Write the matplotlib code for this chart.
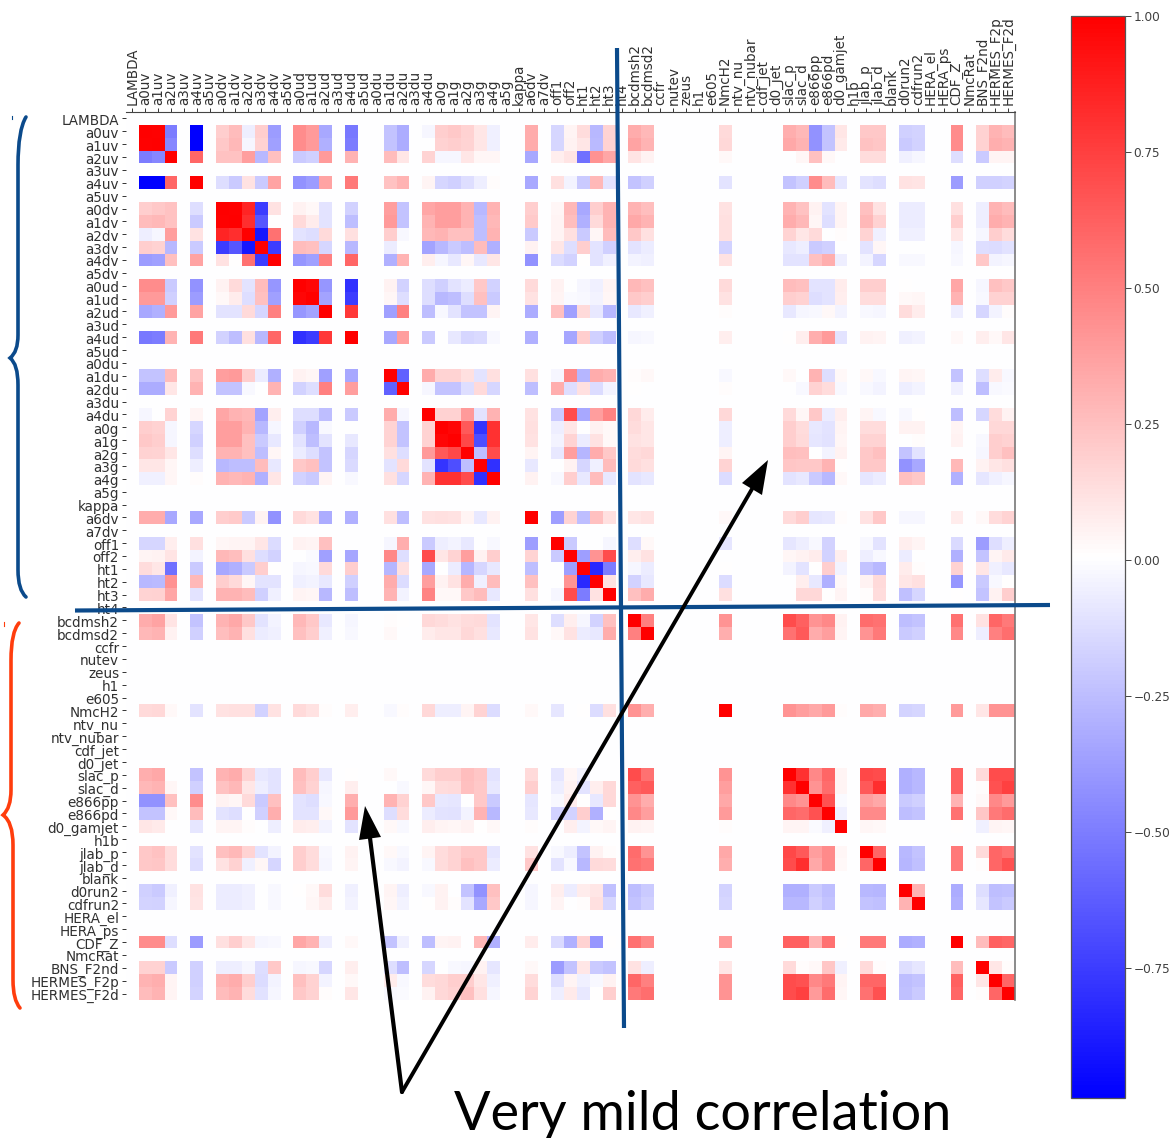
import numpy as np
import matplotlib
matplotlib.use("Agg")
import matplotlib.pyplot as plt
from matplotlib.path import Path
from matplotlib.patches import PathPatch, Polygon
from matplotlib.transforms import ScaledTranslation

W, H = 1174, 1138

labels = ["LAMBDA","a0uv","a1uv","a2uv","a3uv","a4uv","a5uv","a0dv","a1dv","a2dv","a3dv","a4dv","a5dv",
          "a0ud","a1ud","a2ud","a3ud","a4ud","a5ud","a0du","a1du","a2du","a3du","a4du",
          "a0g","a1g","a2g","a3g","a4g","a5g","kappa","a6dv","a7dv","off1","off2","ht1","ht2","ht3","ht4",
          "bcdmsh2","bcdmsd2","ccfr","nutev","zeus","h1","e605","NmcH2","ntv_nu","ntv_nubar","cdf_jet","d0_jet",
          "slac_p","slac_d","e866pp","e866pd","d0_gamjet","h1b","jlab_p","jlab_d","blank","d0run2","cdfrun2",
          "HERA_el","HERA_ps","CDF_Z","NmcRat","BNS_F2nd","HERMES_F2p","HERMES_F2d"]

# Only these parameters / data sets have non-empty rows
active = ["a0uv","a1uv","a2uv","a4uv","a0dv","a1dv","a2dv","a3dv","a4dv","a0ud","a1ud","a2ud","a4ud",
          "a1du","a2du","a4du","a0g","a1g","a2g","a3g","a4g","a6dv","off1","off2","ht1","ht2","ht3",
          "bcdmsh2","bcdmsd2","NmcH2","slac_p","slac_d","e866pp","e866pd","d0_gamjet","jlab_p","jlab_d",
          "d0run2","cdfrun2","CDF_Z","BNS_F2nd","HERMES_F2p","HERMES_F2d"]

# Upper triangle in percent, each row starts on the diagonal
r_a0uv = [100,99,-50,-99,20,27,-6,20,-38,45,40,-33,-52,-22,-32,-3,20,22,18,10,-5,33,-15,5,14,-27,17,33,28,15,32,28,-42,-22,10,22,22,-18,-16,45,18,30,27]
r_a1uv = [100,-46,-99,22,28,-3,18,-36,45,40,-30,-50,-22,-32,0,18,20,17,10,-5,33,-15,6,10,-26,18,36,30,16,34,30,-42,-22,9,24,23,-20,-17,45,18,32,30]
r_a2uv = [100,60,24,24,38,-27,25,-20,-18,40,30,27,10,17,-3,-3,10,4,4,-33,7,11,-55,43,35,11,6,3,0,4,25,3,0,14,14,-5,-3,-12,-20,5,5]
r_a4uv = [100,-12,-20,12,-20,36,-42,-38,36,52,24,30,5,-15,-18,-12,-6,2,-33,13,-4,-20,28,-10,-22,-18,-10,-22,-18,45,27,-9,-10,-12,12,11,-38,-18,-18,-16]
r_a0dv = [100,99,86,-75,12,6,3,-10,-17,38,-22,35,38,38,30,-27,30,20,4,28,-33,20,30,30,26,12,30,24,6,-10,5,25,12,-7,-7,13,-6,30,27]
r_a1dv = [100,82,-65,1,15,8,-10,-25,40,-22,30,38,38,30,-25,28,21,5,26,-30,15,30,34,30,13,33,28,4,-12,5,28,18,-7,-7,20,-6,33,30]
r_a2dv = [100,-90,55,-10,-12,15,13,20,-2,28,30,25,25,-25,30,-20,5,13,-20,4,27,22,13,13,17,10,15,0,2,17,-5,-5,-5,10,-3,20,14]
r_a3dv = [100,-75,27,25,-15,-27,-7,0,-35,-27,-20,-25,27,-30,6,10,-12,20,-10,-18,-10,-7,-17,-8,-6,-20,-18,0,-10,4,0,0,-3,-12,-13,-11]
r_a4dv = [100,-40,-36,50,60,-30,30,7,-3,-8,4,-8,10,-42,-13,-17,1,-10,-5,-4,-5,12,-10,-10,25,32,-6,-4,-15,-2,-2,-2,22,-4,-3]
r_a0ud = [100,97,-40,-80,6,-17,-12,-18,-10,-7,22,-17,15,6,0,-3,-5,5,28,25,15,27,25,-10,-10,8,20,20,1,0,35,-3,25,22]
r_a1ud = [100,-35,-75,4,-12,-12,-27,-25,-12,25,-20,12,5,-1,-2,-4,4,22,20,12,20,18,-12,-10,7,14,14,3,4,30,-2,18,18]
r_a2ud = [100,78,-36,50,-25,-2,-10,-22,-22,5,-32,25,-36,15,-8,-27,-8,-5,2,-8,-3,-2,3,-4,-2,-3,14,8,-6,-15,-4,2]
r_a4ud = [100,-33,38,-20,0,-8,-15,-14,-2,-30,0,-34,20,-18,-25,-3,-2,7,1,7,32,40,-10,6,5,-5,-4,3,7,3,10]
r_a1du = [100,-60,33,17,17,13,-10,13,13,-3,47,-28,33,30,2,3,-2,3,0,30,-12,3,3,-2,5,4,-22,-12,8,-2]
r_a2du = [100,-3,-22,-22,-12,15,-15,-25,32,-12,13,-13,-4,1,0,2,0,-2,18,14,-2,-2,-4,-6,-4,-5,-25,-2,-1]
r_a4du = [100,18,18,40,-10,30,12,-20,70,-33,38,48,16,8,16,15,4,22,-7,7,5,-2,-2,1,-25,-15,14,6]
r_a0g = [100,97,65,-78,80,13,-6,10,0,6,3,14,10,-6,20,14,-8,-10,5,14,14,6,6,5,0,16,16]
r_a1g = [100,72,-68,80,12,-4,17,-7,12,3,12,10,-6,20,15,-9,-11,4,17,17,0,2,6,-2,20,18]
r_a2g = [100,-25,70,5,-8,38,-28,33,22,14,16,5,26,25,0,-4,6,22,25,-22,-10,0,-3,20,25]
r_a3g = [100,-80,-8,0,6,-15,-5,27,15,13,17,23,22,22,30,1,22,22,-42,-33,28,6,10,13]
r_a4g = [100,6,-2,20,-8,27,-8,-10,-8,-13,-10,-8,-20,-27,3,-9,-7,25,22,-30,-9,-5,-3]
r_a6dv = [100,-37,17,-25,25,13,10,12,3,15,20,-9,-8,2,12,22,-3,-3,8,3,14,17]
r_off1 = [100,-20,0,0,-3,-12,3,-9,-9,-6,-2,-17,0,-2,-10,7,5,-14,-38,-12,-6]
r_off2 = [100,-37,42,70,7,12,0,4,6,8,-17,7,-6,-2,-7,0,-30,-22,5,9]
r_ht1 = [100,-83,-50,-3,-7,1,-4,-10,1,20,-4,-22,-27,8,2,18,10,-5,-8]
r_ht2 = [100,12,-17,-8,-13,0,7,-8,-30,3,6,15,10,13,-40,-20,-2,1]
r_ht3 = [100,25,33,13,0,16,16,1,5,2,14,-24,-15,1,-22,6,20]
r_bcdmsh2 = [100,50,42,70,62,42,47,6,58,55,-25,-22,55,12,60,52]
r_bcdmsd2 = [100,32,55,65,33,38,5,42,52,-20,-18,47,-6,50,57]
r_NmcH2 = [100,42,38,34,40,2,34,32,-16,-15,40,10,42,42]
r_slac_p = [100,80,47,60,5,72,70,-30,-27,62,15,70,70]
r_slac_d = [100,42,58,5,65,82,-30,-27,62,2,68,75]
r_e866pp = [100,68,-1,38,34,-20,-18,30,3,47,40]
r_e866pd = [100,-5,46,46,-25,-22,55,23,52,58]
r_d0_gamjet = [100,4,3,0,0,1,-5,5,4]
r_jlab_p = [100,60,-27,-22,52,15,60,55]
r_jlab_d = [100,-28,-24,52,2,60,68]
r_d0run2 = [100,30,-32,-12,-25,-24]
r_cdfrun2 = [100,-30,-9,-22,-20]
r_CDF_Z = [100,27,62,60]
r_BNS_F2nd = [100,10,2]
r_HERMES_F2p = [100,60]
r_HERMES_F2d = [100]

upper_rows = [r_a0uv,r_a1uv,r_a2uv,r_a4uv,r_a0dv,r_a1dv,r_a2dv,r_a3dv,r_a4dv,r_a0ud,r_a1ud,r_a2ud,r_a4ud,
              r_a1du,r_a2du,r_a4du,r_a0g,r_a1g,r_a2g,r_a3g,r_a4g,r_a6dv,r_off1,r_off2,r_ht1,r_ht2,r_ht3,
              r_bcdmsh2,r_bcdmsd2,r_NmcH2,r_slac_p,r_slac_d,r_e866pp,r_e866pd,r_d0_gamjet,r_jlab_p,r_jlab_d,
              r_d0run2,r_cdfrun2,r_CDF_Z,r_BNS_F2nd,r_HERMES_F2p,r_HERMES_F2d]

n = len(labels)
corr = np.zeros((n, n))
for i, (name, row) in enumerate(zip(active, upper_rows)):
    assert len(row) == len(active) - i, (name, len(row), len(active) - i)
    a = labels.index(name)
    for j, v in enumerate(row):
        b = labels.index(active[i + j])
        corr[a, b] = corr[b, a] = v / 100.0

cbar_ticks = [-0.75, -0.5, -0.25, 0.0, 0.25, 0.5, 0.75, 1.0]
VMIN, VMAX = -0.988, 1.0

fig = plt.figure(figsize=(W / 100, H / 100), dpi=100, facecolor="white")

def px_axes(x0, y0, x1, y1, **kw):
    return fig.add_axes([x0 / W, 1 - y1 / H, (x1 - x0) / W, (y1 - y0) / H], **kw)

TXT = "#303030"
ax = px_axes(126, 112, 1014.5, 1000)
im = ax.imshow(corr, cmap="bwr", vmin=VMIN, vmax=VMAX, aspect="auto", interpolation="nearest")
ax.set_xticks(range(n))
ax.set_yticks(range(n))
ax.set_xticklabels(labels, rotation=90, fontsize=9.75, color=TXT)
ax.set_yticklabels(labels, fontsize=9.75, color=TXT)
ax.xaxis.tick_top()
ax.tick_params(axis="both", length=3, width=0.7, pad=2, color="#333333")
shift = ScaledTranslation(0, -1 / 100, fig.dpi_scale_trans)
for lab in ax.get_yticklabels():
    lab.set_transform(lab.get_transform() + shift)
ax.spines["left"].set_visible(False)
ax.spines["bottom"].set_visible(False)
ax.spines["top"].set_color("#444444")
ax.spines["right"].set_color("#777777")
ax.spines["right"].set_linewidth(1.2)

cax = px_axes(1071, 16, 1125, 1098)
cb = fig.colorbar(im, cax=cax, ticks=cbar_ticks)
cb.ax.tick_params(labelsize=8.7, length=4, width=0.7, pad=2, labelcolor="#404040", color="#444444")
cb.outline.set_linewidth(0.9)
cb.outline.set_edgecolor("#555555")

# Annotation layer in pixel coordinates
ov = fig.add_axes([0, 0, 1, 1], facecolor="none")
ov.set_xlim(0, W)
ov.set_ylim(H, 0)
ov.axis("off")

BLUE = "#0B4A8B"
ORANGE = "#FF3D0D"
ov.plot([617, 624], [48, 1028], color=BLUE, lw=3.0, solid_capstyle="butt")
ov.plot([75, 1050], [610.5, 605], color=BLUE, lw=3.0, solid_capstyle="butt")

def brace(pts, color):
    codes = [Path.MOVETO, Path.CURVE3, Path.CURVE3, Path.LINETO, Path.CURVE3, Path.CURVE3,
             Path.CURVE3, Path.CURVE3, Path.LINETO, Path.CURVE3, Path.CURVE3]
    ov.add_patch(PathPatch(Path(pts, codes), fill=False, edgecolor=color, lw=2.6, capstyle="round"))

brace([(26, 117), (18, 130), (18, 165), (18, 335), (18, 352), (10, 358),
       (18, 364), (18, 385), (18, 570), (18, 590), (26, 597)], BLUE)
brace([(19, 623), (11, 632), (11, 660), (11, 790), (11, 808), (3, 815),
       (13, 822), (13, 845), (13, 980), (13, 1000), (20, 1008)], ORANGE)
ov.plot([12, 12], [116, 119], color=BLUE, lw=0.8)
ov.plot([4, 4], [622, 626], color=ORANGE, lw=0.8)

ov.plot([402, 752], [1092, 489], color="black", lw=2.8, solid_capstyle="round")
ov.plot([402, 370], [1092, 838], color="black", lw=3.0, solid_capstyle="round")
ov.add_patch(Polygon([(768, 460), (742, 483), (762, 495)], closed=True, fc="black", ec="none"))
ov.add_patch(Polygon([(365, 806), (359, 840), (381, 837)], closed=True, fc="black", ec="none"))

ov.text(454, 1130, "Very mild correlation", family="Lato", fontsize=38.9, color="black",
        ha="left", va="baseline")

fig.savefig("out.png", dpi=100)
